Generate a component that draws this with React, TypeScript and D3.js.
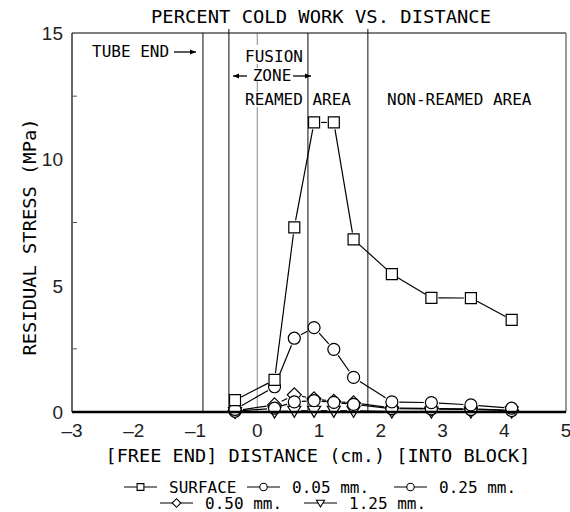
import React, { useEffect, useRef } from "react";
import * as d3 from "d3";

// distance (cm) of the measuring positions
const distance = [-0.36, 0.28, 0.6, 0.92, 1.24, 1.56, 2.18, 2.82, 3.46, 4.12];
// residual stress (MPa) per depth
const surface = [0.47, 1.27, 7.31, 11.46, 11.46, 6.83, 5.46, 4.52, 4.51, 3.65];
const mm005 = [0.1, 1.0, 2.92, 3.34, 2.48, 1.37, 0.4, 0.37, 0.28, 0.15];
const mm025 = [0.03, 0.15, 0.4, 0.45, 0.38, 0.3, 0.13, 0.12, 0.1, 0.06];
const mm050 = [0.05, 0.28, 0.68, 0.52, 0.42, 0.36, 0.16, 0.14, 0.12, 0.07];
const mm125 = [0.0, 0.02, 0.05, 0.05, 0.05, 0.05, 0.02, 0.02, 0.02, 0.02];

const zoneLines = [-0.88, -0.46, 0, 0.82, 1.79];
const xTicks = [-3, -2, -1, 0, 1, 2, 3, 4, 5];
const yTicks = [0, 5, 10, 15];
const yMinor = [2.5, 7.5, 12.5];

const MONO = "'DejaVu Sans Mono', monospace";
const SANS = "'Liberation Sans', Arial, sans-serif";

const shapePath = (shape, k) => {
  switch (shape) {
    case "square":
      return `M${-5.5 * k},${-5.5 * k}h${11 * k}v${11 * k}h${-11 * k}Z`;
    case "circle":
      return d3.symbol().type(d3.symbolCircle).size(Math.PI * 36 * k * k)();
    case "diamond":
      return `M0,${-7 * k}L${7 * k},0L0,${7 * k}L${-7 * k},0Z`;
    default:
      return `M${-6.5 * k},${-4.5 * k}L${6.5 * k},${-4.5 * k}L0,${6.5 * k}Z`;
  }
};

const gap = { square: 7, circle: 7.5, diamond: 8, triangle: 6.5 };

const series = [
  { name: "1.25 mm.", values: mm125, shape: "triangle" },
  { name: "0.50 mm.", values: mm050, shape: "diamond" },
  { name: "0.25 mm.", values: mm025, shape: "circle" },
  { name: "0.05 mm.", values: mm005, shape: "circle" },
  { name: "SURFACE", values: surface, shape: "square" },
];

const legendItems = [
  { shape: "square", label: "SURFACE", x: 124, y: 487 },
  { shape: "circle", label: "0.05 mm.", x: 247, y: 487 },
  { shape: "circle", label: "0.25 mm.", x: 394, y: 487 },
  { shape: "diamond", label: "0.50 mm.", x: 160, y: 503 },
  { shape: "triangle", label: "1.25 mm.", x: 304, y: 503 },
];

export default function App() {
  const ref = useRef(null);

  useEffect(() => {
    const svg = d3.select(ref.current);
    svg.selectAll("*").remove();

    const x = d3.scaleLinear().domain([-3, 5]).range([72, 566]);
    const y = d3.scaleLinear().domain([0, 15]).range([412, 33]);

    // title
    svg.append("text")
      .attr("x", 321).attr("y", 23)
      .attr("text-anchor", "middle")
      .style("font-family", MONO).style("font-size", "18.5px")
      .attr("textLength", 340).attr("lengthAdjust", "spacingAndGlyphs")
      .text("PERCENT COLD WORK VS. DISTANCE");

    // zone separators
    zoneLines.forEach((d, i) => {
      svg.append("line")
        .attr("x1", x(d)).attr("x2", x(d))
        .attr("y1", (i === 1 || i === 4) ? 29 : y(15)).attr("y2", y(0))
        .attr("stroke", d === 0 ? "#888" : "#666")
        .attr("stroke-width", d === 0 ? 1 : 1.6);
    });

    // frame
    svg.append("line").attr("x1", x(-3)).attr("x2", x(5)).attr("y1", y(15)).attr("y2", y(15))
      .attr("stroke", "#000").attr("stroke-width", 1.2);
    svg.append("line").attr("x1", x(-3)).attr("x2", x(-3)).attr("y1", y(15)).attr("y2", y(0))
      .attr("stroke", "#000").attr("stroke-width", 1.2);
    svg.append("line").attr("x1", x(5)).attr("x2", x(5)).attr("y1", y(15)).attr("y2", y(0))
      .attr("stroke", "#777").attr("stroke-width", 1.5);

    // y ticks
    yMinor.forEach(d => {
      svg.append("line").attr("x1", x(-3)).attr("x2", x(-3) + 5)
        .attr("y1", y(d)).attr("y2", y(d)).attr("stroke", "#555").attr("stroke-width", 1);
    });
    yTicks.forEach(d => {
      svg.append("text")
        .attr("x", 63).attr("y", y(d)).attr("dy", "0.36em")
        .attr("text-anchor", "end")
        .style("font-family", SANS).style("font-size", "19px").attr("fill", "#222")
        .text(d);
    });
    xTicks.forEach(d => {
      svg.append("text")
        .attr("x", x(d)).attr("y", 437)
        .attr("text-anchor", "middle")
        .style("font-family", SANS).style("font-size", "19px").attr("fill", "#222")
        .text(d < 0 ? "\u2013" + Math.abs(d) : d);
    });

    // axis titles
    svg.append("text")
      .attr("x", 318).attr("y", 462)
      .attr("text-anchor", "middle")
      .style("font-family", MONO).style("font-size", "18.5px")
      .attr("textLength", 425).attr("lengthAdjust", "spacingAndGlyphs")
      .text("[FREE END] DISTANCE (cm.) [INTO BLOCK]");
    svg.append("text")
      .attr("transform", "translate(36,237) rotate(-90)")
      .attr("text-anchor", "middle")
      .style("font-family", MONO).style("font-size", "18.5px")
      .attr("textLength", 237).attr("lengthAdjust", "spacingAndGlyphs")
      .text("RESIDUAL STRESS (MPa)");

    // zone annotations
    const note = (tx, ty, s, anchor = "start") =>
      svg.append("text").attr("x", tx).attr("y", ty).attr("text-anchor", anchor)
        .style("font-family", MONO).style("font-size", "16px").text(s);
    const arrow = (x1, x2, ay) => {
      svg.append("line").attr("x1", x1).attr("x2", x2).attr("y1", ay).attr("y2", ay)
        .attr("stroke", "#000").attr("stroke-width", 1.3);
      const dir = x2 > x1 ? 1 : -1;
      svg.append("path")
        .attr("d", `M${x2},${ay}L${x2 - dir * 6},${ay - 2.5}L${x2 - dir * 6},${ay + 2.5}Z`)
        .attr("fill", "#000");
    };
    svg.append("rect").attr("x", 244).attr("y", 45).attr("width", 62).attr("height", 19).attr("fill", "#fff");
    svg.append("rect").attr("x", 251).attr("y", 68).attr("width", 42).attr("height", 13).attr("fill", "#fff");
    svg.append("rect").attr("x", 245).attr("y", 92).attr("width", 60).attr("height", 15).attr("fill", "#fff");
    note(92, 57, "TUBE END");
    arrow(174, 196, 52);
    note(274, 62, "FUSION", "middle");
    note(272, 81, "ZONE", "middle");
    arrow(247, 233, 76);
    arrow(293, 311, 76);
    note(245, 105, "REAMED AREA");
    note(387, 105, "NON-REAMED AREA");

    // series
    series.forEach(s => {
      const pts = distance.map((d, i) => [x(d), y(s.values[i])]);
      const g = gap[s.shape];
      for (let i = 0; i < pts.length - 1; i++) {
        const [x1, y1] = pts[i];
        const [x2, y2] = pts[i + 1];
        const len = Math.hypot(x2 - x1, y2 - y1);
        if (len <= 2 * g) continue;
        const ux = (x2 - x1) / len, uy = (y2 - y1) / len;
        svg.append("line")
          .attr("x1", x1 + ux * g).attr("y1", y1 + uy * g)
          .attr("x2", x2 - ux * g).attr("y2", y2 - uy * g)
          .attr("stroke", "#000").attr("stroke-width", 1.2);
      }
      svg.selectAll(null).data(pts).enter().append("path")
        .attr("transform", d => `translate(${d[0]},${d[1]})`)
        .attr("d", shapePath(s.shape, 1))
        .attr("fill", "#fff").attr("stroke", "#000").attr("stroke-width", 1.2);
    });

    // bottom axis on top of markers
    svg.append("line").attr("x1", x(-3)).attr("x2", x(5)).attr("y1", y(0)).attr("y2", y(0))
      .attr("stroke", "#000").attr("stroke-width", 2.5);

    // legend
    legendItems.forEach(d => {
      svg.append("line").attr("x1", d.x).attr("x2", d.x + 33).attr("y1", d.y).attr("y2", d.y)
        .attr("stroke", "#000").attr("stroke-width", 1.2);
      svg.append("path")
        .attr("transform", `translate(${d.x + 16.5},${d.y})`)
        .attr("d", shapePath(d.shape, 0.62))
        .attr("fill", "#fff").attr("stroke", "#000").attr("stroke-width", 1.1);
      svg.append("text").attr("x", d.x + 45).attr("y", d.y + 5.5)
        .style("font-family", MONO).style("font-size", "16px").text(d.label);
    });
  }, []);

  return (
    <svg ref={ref} width={570} height={512}
      style={{ position: "absolute", left: 0, top: 0, background: "#fff" }} />
  );
}
